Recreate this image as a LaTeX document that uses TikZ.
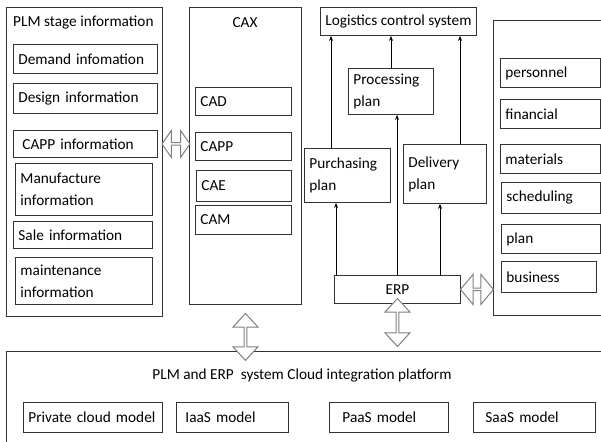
\documentclass[tikz,border=0pt]{standalone}
\usepackage{fontspec}
\setmainfont{Carlito}
\usetikzlibrary{shapes.arrows,calc,arrows.meta}

\begin{document}
\begin{tikzpicture}[x=1pt,y=-1pt,
  font=\fontsize{15.3}{22}\selectfont,
  frame/.style={draw=black!80,line width=.9pt,anchor=north west,inner sep=0pt},
  item/.style={frame,align=left,inner xsep=5pt},
  dbl/.style={double arrow,draw=black!50,fill=white,line width=1pt,inner sep=0pt,
    minimum width=25,double arrow head extend=4,double arrow tip angle=90},
  up/.style={-{Stealth[length=5pt,width=4pt]},line width=.7pt}]

\useasboundingbox (0,0) rectangle (601,441);

% PLM stage information
\node[frame,minimum width=156,minimum height=309] (plm) at (6,7) {};
\node[anchor=west,inner sep=0pt] (plmtitle) at (13,23) {PLM stage information};
\node[item,text width=134,minimum height=29] (demand) at (13,44) {Demand infomation};
\node[item,text width=134,minimum height=30] (design) at (13,83) {Design information};
\node[item,text width=134,minimum height=27] (cappinfo) at (13,130) {\hspace*{4pt}CAPP information};
\node[item,text width=127,minimum height=52] (manuf) at (15,163) {Manufacture\\information};
\node[item,text width=129,minimum height=27] (sale) at (13,221) {Sale information};
\node[item,text width=127,minimum height=47] (maint) at (15,257) {maintenance\\information};

% CAX
\node[frame,minimum width=112,minimum height=297] (cax) at (189,7) {};
\node[inner sep=0pt] (caxtitle) at (245,23) {CAX};
\node[item,text width=86,minimum height=28] (cad) at (195,87) {CAD};
\node[item,text width=86,minimum height=28] (capp) at (195,132) {CAPP};
\node[item,text width=85,minimum height=31] (cae) at (196,170) {CAE};
\node[item,text width=86,minimum height=29] (cam) at (195,205) {CAM};

% ERP and logistics
\node[frame,minimum width=156,minimum height=28] (logistics) at (320,7) {Logistics control system};
\node[item,text width=75,minimum height=46] (processing) at (348,68) {Processing\\plan};
\node[item,text width=76,minimum height=54] (purchasing) at (304,148) {Purchasing\\plan};
\node[item,text width=73,minimum height=59] (delivery) at (403,144) {Delivery\\plan};
\node[frame,minimum width=126,minimum height=28] (erp) at (334,275) {ERP};

\draw[up] ([xshift=27]purchasing.north west) -- ([xshift=27]purchasing.north west |- logistics.south);
\draw[up] (processing.north) -- (processing.north |- logistics.south);
\draw[up] ([xshift=57]delivery.north west) -- ([xshift=57]delivery.north west |- logistics.south);
\draw[up] ([xshift=2]erp.north west) -- ([xshift=2]erp.north west |- purchasing.south);
\draw[up] ([xshift=63]erp.north west) -- ([xshift=63]erp.north west |- processing.south);
\draw[up] ([xshift=106]erp.north west) -- ([xshift=106]erp.north west |- delivery.south);

% ERP modules
\node[frame,minimum width=130,minimum height=295] (modules) at (493,20) {};
\node[item,text width=90,minimum height=29] (personnel) at (500,58) {personnel};
\node[item,text width=90,minimum height=29] (financial) at (500,99) {financial};
\node[item,text width=90,minimum height=29] (materials) at (500,144) {materials};
\node[item,text width=89,minimum height=31] (scheduling) at (501,182) {scheduling};
\node[item,text width=89,minimum height=29] (plan) at (501,224) {plan};
\node[item,text width=85,minimum height=31] (business) at (501,261) {business};

% cloud platform
\node[frame,minimum width=620,minimum height=100] (cloud) at (6,351) {};
\node[inner sep=0pt] (cloudtitle) at (302,375) {PLM and ERP\ \ system Cloud integration platform};
\node[item,text width=129,minimum height=30] (private) at (23,402) {Private cloud model};
\node[item,text width=102,minimum height=30] (iaas) at (176,402) {\hspace*{4pt}IaaS model};
\node[item,text width=109,minimum height=30] (paas) at (329,402) {\hspace*{8pt}PaaS model};
\node[item,text width=112,minimum height=30] (saas) at (473,402) {\hspace*{7pt}SaaS model};

% links
\node[dbl,minimum height=28,minimum width=27,double arrow head extend=5,double arrow tip angle=110] (plmcax) at ($(plm.east |- cappinfo.east)!.5!(cax.west |- cappinfo.east)$) {};
\node[dbl,rotate=90,minimum height=47,xshift=-9,double arrow tip angle=85] (caxcloud) at ($(cax.south)!.5!(cloud.north -| cax.south)$) {};
\node[dbl,rotate=90,minimum height=48,xshift=5,double arrow tip angle=85] (erpcloud) at ($(erp.south)!.5!(cloud.north -| erp.south)$) {};
\node[dbl,minimum height=33,minimum width=30,double arrow head extend=5.5,double arrow tip angle=100] (erpmod) at ($(erp.east)!.5!(modules.west |- erp.east)$) {};
\end{tikzpicture}
\end{document}
